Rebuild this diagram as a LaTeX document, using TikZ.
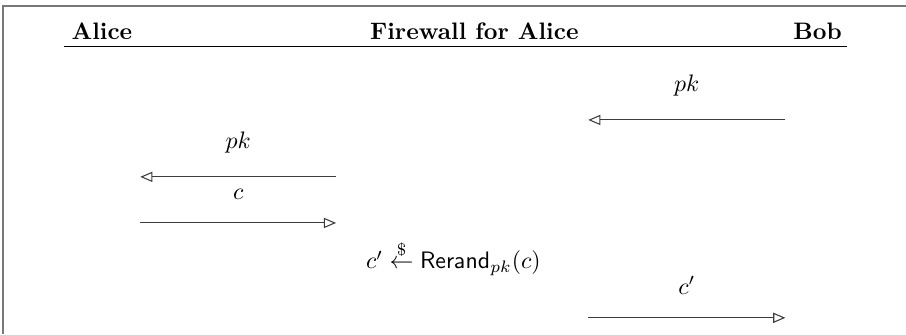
\documentclass[tikz,border=0pt]{standalone}
\usepackage{amsmath,amssymb}
\usepackage{tikz}
\usetikzlibrary{arrows.meta,calc,positioning}
\definecolor{framegray}{RGB}{120,120,120}
\definecolor{msggray}{RGB}{60,60,60}

\begin{document}
\begin{tikzpicture}[every node/.style={font=\normalsize},
    msg/.style={-{Triangle[open,length=1.8mm,width=1.5mm]}, msggray, line width=0.45pt},
    msglabel/.style={midway, above=0.22cm, text=black},
    party/.style={anchor=base, font=\bfseries}]
  \useasboundingbox (0,0) rectangle (13.37,4.93);
  % frame (top and left edge only)
  \coordinate (F0) at (0.04,0);
  \coordinate (F1) at (0.04,4.84);
  \coordinate (F2) at (13.37,4.84);
  \draw[framegray, line width=0.7pt] (F0) -- (F1) -- (F2);
  % header
  \node[party, anchor=base west, inner sep=0pt] (alice) at (1.05,4.34) {Alice};
  \node[party] (fw) at (7.0,4.34) {Firewall for Alice};
  \node[party, anchor=base east, inner sep=0pt] (bob) at (12.43,4.34) {Bob};
  \coordinate (H1) at (0.94,4.24);
  \coordinate (H2) at (12.50,4.24);
  \draw[line width=0.6pt] (H1) -- (H2);
  % Bob -> firewall
  \coordinate (B1) at (11.59,3.16);
  \coordinate (W1) at (8.68,3.16);
  \draw[msg] (B1) -- (W1) node[msglabel] {$pk$};
  % firewall -> Alice
  \coordinate (W2) at (4.96,2.32);
  \coordinate (A2) at (2.07,2.32);
  \draw[msg] (W2) -- (A2) node[msglabel] {$pk$};
  % Alice -> firewall
  \coordinate (A3) at (2.07,1.64);
  \coordinate (W3) at (4.96,1.64);
  \draw[msg] (A3) -- (W3) node[msglabel] {$c$};
  % rerandomise
  \node (rr) at (6.69,1.12) {$c' \stackrel{\$}{\leftarrow} \mathsf{Rerand}_{pk}(c)$};
  % firewall -> Bob
  \coordinate (W4) at (8.68,0.24);
  \coordinate (B4) at (11.59,0.24);
  \draw[msg] (W4) -- (B4) node[msglabel] {$c'$};
\end{tikzpicture}
\end{document}
